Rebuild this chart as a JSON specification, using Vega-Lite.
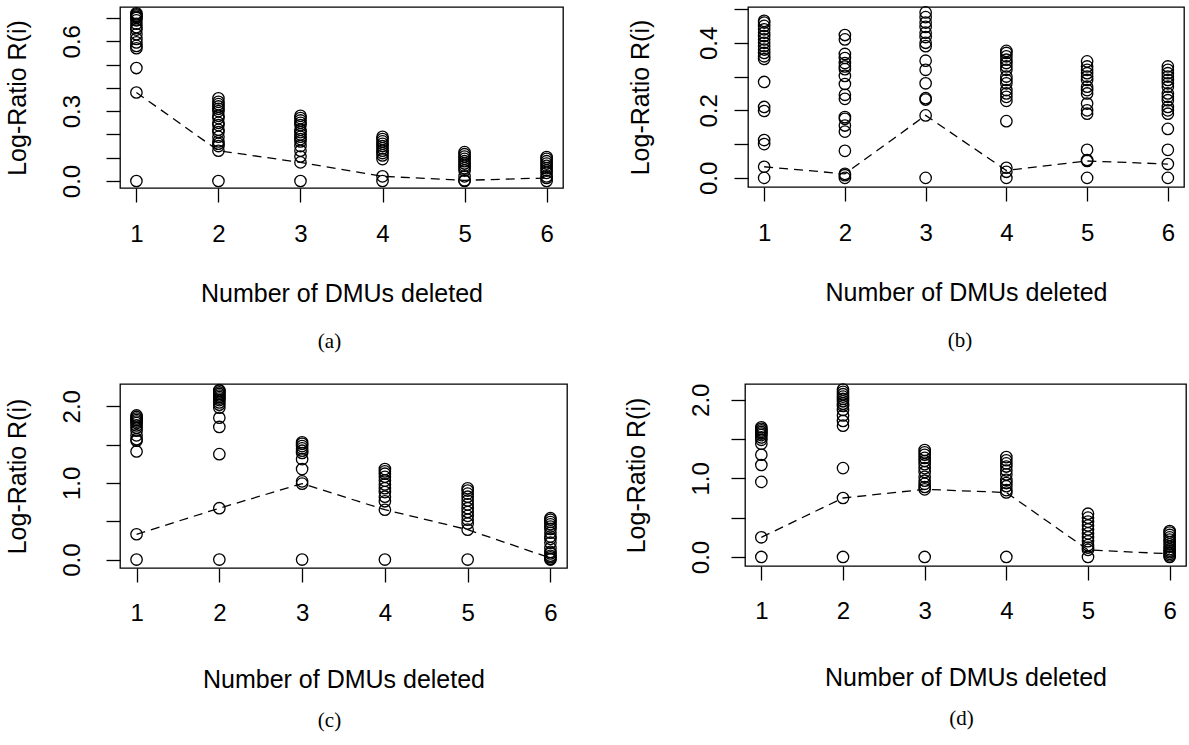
{
  "$schema": "https://vega.github.io/schema/vega-lite/v6.json",
  "padding": {"left": 4, "top": 3, "right": 0, "bottom": 0},
  "background": "white",
  "config": {
    "view": {"stroke": "black", "strokeWidth": 1.3},
    "axis": {"domain": false, "grid": false, "tickColor": "black", "tickWidth": 1.3, "tickSize": 14, "labelFont": "Liberation Sans", "labelFontSize": 24, "labelColor": "black", "titleFont": "Liberation Sans", "titleFontSize": 25, "titleFontWeight": "normal", "titleColor": "black", "labelFlush": false, "labelOverlap": false},
    "axisY": {"labelAngle": -90, "labelAlign": "center", "labelBaseline": "alphabetic", "labelPadding": 27, "titlePadding": 30},
    "axisX": {"labelAngle": 0, "labelPadding": 20, "titlePadding": 35},
    "title": {"font": "Liberation Serif", "fontSize": 21, "fontWeight": "normal", "color": "black", "orient": "bottom", "offset": 25}
  },
  "datasets": {
    "pa": [
      {"n":1,"r":0.0},{"n":1,"r":0.38},{"n":1,"r":0.485},{"n":1,"r":0.57},{"n":1,"r":0.58},{"n":1,"r":0.595},{"n":1,"r":0.61},{"n":1,"r":0.63},{"n":1,"r":0.65},{"n":1,"r":0.66},{"n":1,"r":0.675},{"n":1,"r":0.69},{"n":1,"r":0.70},{"n":1,"r":0.705},{"n":1,"r":0.71},{"n":1,"r":0.715},{"n":1,"r":0.72},
      {"n":2,"r":0.0},{"n":2,"r":0.13},{"n":2,"r":0.15},{"n":2,"r":0.16},{"n":2,"r":0.17},{"n":2,"r":0.19},{"n":2,"r":0.21},{"n":2,"r":0.22},{"n":2,"r":0.24},{"n":2,"r":0.25},{"n":2,"r":0.27},{"n":2,"r":0.28},{"n":2,"r":0.30},{"n":2,"r":0.31},{"n":2,"r":0.32},{"n":2,"r":0.33},{"n":2,"r":0.34},{"n":2,"r":0.355},
      {"n":3,"r":0.0},{"n":3,"r":0.08},{"n":3,"r":0.105},{"n":3,"r":0.13},{"n":3,"r":0.15},{"n":3,"r":0.17},{"n":3,"r":0.18},{"n":3,"r":0.19},{"n":3,"r":0.20},{"n":3,"r":0.21},{"n":3,"r":0.22},{"n":3,"r":0.24},{"n":3,"r":0.25},{"n":3,"r":0.26},{"n":3,"r":0.27},{"n":3,"r":0.28},
      {"n":4,"r":0.0},{"n":4,"r":0.02},{"n":4,"r":0.094},{"n":4,"r":0.11},{"n":4,"r":0.12},{"n":4,"r":0.13},{"n":4,"r":0.14},{"n":4,"r":0.15},{"n":4,"r":0.16},{"n":4,"r":0.17},{"n":4,"r":0.18},{"n":4,"r":0.19},
      {"n":5,"r":0.0},{"n":5,"r":0.003},{"n":5,"r":0.02},{"n":5,"r":0.045},{"n":5,"r":0.055},{"n":5,"r":0.065},{"n":5,"r":0.075},{"n":5,"r":0.085},{"n":5,"r":0.095},{"n":5,"r":0.105},{"n":5,"r":0.115},{"n":5,"r":0.124},
      {"n":6,"r":0.0},{"n":6,"r":0.013},{"n":6,"r":0.02},{"n":6,"r":0.035},{"n":6,"r":0.045},{"n":6,"r":0.055},{"n":6,"r":0.065},{"n":6,"r":0.075},{"n":6,"r":0.085},{"n":6,"r":0.095},{"n":6,"r":0.103}
    ],
    "la": [{"n":1,"r":0.38},{"n":2,"r":0.13},{"n":3,"r":0.08},{"n":4,"r":0.02},{"n":5,"r":0.003},{"n":6,"r":0.013}],
    "pb": [
      {"n":1,"r":0.0},{"n":1,"r":0.033},{"n":1,"r":0.10},{"n":1,"r":0.112},{"n":1,"r":0.198},{"n":1,"r":0.21},{"n":1,"r":0.284},{"n":1,"r":0.352},{"n":1,"r":0.36},{"n":1,"r":0.37},{"n":1,"r":0.38},{"n":1,"r":0.39},{"n":1,"r":0.40},{"n":1,"r":0.41},{"n":1,"r":0.42},{"n":1,"r":0.43},{"n":1,"r":0.44},{"n":1,"r":0.45},{"n":1,"r":0.46},{"n":1,"r":0.465},
      {"n":2,"r":0.0},{"n":2,"r":0.008},{"n":2,"r":0.012},{"n":2,"r":0.08},{"n":2,"r":0.137},{"n":2,"r":0.155},{"n":2,"r":0.175},{"n":2,"r":0.18},{"n":2,"r":0.234},{"n":2,"r":0.246},{"n":2,"r":0.278},{"n":2,"r":0.302},{"n":2,"r":0.322},{"n":2,"r":0.33},{"n":2,"r":0.34},{"n":2,"r":0.355},{"n":2,"r":0.367},{"n":2,"r":0.41},{"n":2,"r":0.423},
      {"n":3,"r":0.0},{"n":3,"r":0.185},{"n":3,"r":0.232},{"n":3,"r":0.236},{"n":3,"r":0.28},{"n":3,"r":0.32},{"n":3,"r":0.347},{"n":3,"r":0.39},{"n":3,"r":0.40},{"n":3,"r":0.417},{"n":3,"r":0.43},{"n":3,"r":0.447},{"n":3,"r":0.46},{"n":3,"r":0.476},{"n":3,"r":0.49},
      {"n":4,"r":0.0},{"n":4,"r":0.018},{"n":4,"r":0.03},{"n":4,"r":0.168},{"n":4,"r":0.228},{"n":4,"r":0.24},{"n":4,"r":0.25},{"n":4,"r":0.26},{"n":4,"r":0.28},{"n":4,"r":0.29},{"n":4,"r":0.30},{"n":4,"r":0.32},{"n":4,"r":0.33},{"n":4,"r":0.34},{"n":4,"r":0.35},{"n":4,"r":0.36},{"n":4,"r":0.37},{"n":4,"r":0.376},
      {"n":5,"r":0.0},{"n":5,"r":0.05},{"n":5,"r":0.053},{"n":5,"r":0.083},{"n":5,"r":0.19},{"n":5,"r":0.20},{"n":5,"r":0.22},{"n":5,"r":0.25},{"n":5,"r":0.26},{"n":5,"r":0.27},{"n":5,"r":0.29},{"n":5,"r":0.30},{"n":5,"r":0.31},{"n":5,"r":0.32},{"n":5,"r":0.33},{"n":5,"r":0.345},
      {"n":6,"r":0.0},{"n":6,"r":0.041},{"n":6,"r":0.083},{"n":6,"r":0.145},{"n":6,"r":0.19},{"n":6,"r":0.20},{"n":6,"r":0.21},{"n":6,"r":0.23},{"n":6,"r":0.24},{"n":6,"r":0.25},{"n":6,"r":0.27},{"n":6,"r":0.28},{"n":6,"r":0.29},{"n":6,"r":0.30},{"n":6,"r":0.31},{"n":6,"r":0.32},{"n":6,"r":0.33}
    ],
    "lb": [{"n":1,"r":0.033},{"n":2,"r":0.012},{"n":3,"r":0.185},{"n":4,"r":0.022},{"n":5,"r":0.05},{"n":6,"r":0.041}],
    "pc": [
      {"n":1,"r":0.0},{"n":1,"r":0.33},{"n":1,"r":1.41},{"n":1,"r":1.55},{"n":1,"r":1.57},{"n":1,"r":1.62},{"n":1,"r":1.68},{"n":1,"r":1.72},{"n":1,"r":1.75},{"n":1,"r":1.78},{"n":1,"r":1.80},{"n":1,"r":1.82},{"n":1,"r":1.84},{"n":1,"r":1.86},{"n":1,"r":1.88},
      {"n":2,"r":0.0},{"n":2,"r":0.67},{"n":2,"r":1.375},{"n":2,"r":1.73},{"n":2,"r":1.85},{"n":2,"r":1.98},{"n":2,"r":2.02},{"n":2,"r":2.05},{"n":2,"r":2.08},{"n":2,"r":2.10},{"n":2,"r":2.12},{"n":2,"r":2.14},{"n":2,"r":2.16},{"n":2,"r":2.18},{"n":2,"r":2.20},{"n":2,"r":2.21},
      {"n":3,"r":0.0},{"n":3,"r":0.99},{"n":3,"r":1.02},{"n":3,"r":1.18},{"n":3,"r":1.31},{"n":3,"r":1.39},{"n":3,"r":1.42},{"n":3,"r":1.45},{"n":3,"r":1.48},{"n":3,"r":1.51},{"n":3,"r":1.53},
      {"n":4,"r":0.0},{"n":4,"r":0.65},{"n":4,"r":0.76},{"n":4,"r":0.82},{"n":4,"r":0.88},{"n":4,"r":0.93},{"n":4,"r":0.98},{"n":4,"r":1.03},{"n":4,"r":1.08},{"n":4,"r":1.12},{"n":4,"r":1.15},{"n":4,"r":1.18},
      {"n":5,"r":0.0},{"n":5,"r":0.39},{"n":5,"r":0.47},{"n":5,"r":0.52},{"n":5,"r":0.57},{"n":5,"r":0.62},{"n":5,"r":0.67},{"n":5,"r":0.72},{"n":5,"r":0.77},{"n":5,"r":0.82},{"n":5,"r":0.86},{"n":5,"r":0.90},{"n":5,"r":0.93},
      {"n":6,"r":0.0},{"n":6,"r":0.01},{"n":6,"r":0.03},{"n":6,"r":0.05},{"n":6,"r":0.08},{"n":6,"r":0.10},{"n":6,"r":0.15},{"n":6,"r":0.22},{"n":6,"r":0.27},{"n":6,"r":0.30},{"n":6,"r":0.35},{"n":6,"r":0.40},{"n":6,"r":0.43},{"n":6,"r":0.46},{"n":6,"r":0.49},{"n":6,"r":0.52},{"n":6,"r":0.54}
    ],
    "lc": [{"n":1,"r":0.33},{"n":2,"r":0.67},{"n":3,"r":0.99},{"n":4,"r":0.65},{"n":5,"r":0.39},{"n":6,"r":0.02}],
    "pd": [
      {"n":1,"r":0.0},{"n":1,"r":0.25},{"n":1,"r":0.955},{"n":1,"r":1.17},{"n":1,"r":1.30},{"n":1,"r":1.44},{"n":1,"r":1.49},{"n":1,"r":1.52},{"n":1,"r":1.55},{"n":1,"r":1.57},{"n":1,"r":1.59},{"n":1,"r":1.61},{"n":1,"r":1.63},{"n":1,"r":1.65},
      {"n":2,"r":0.0},{"n":2,"r":0.75},{"n":2,"r":1.13},{"n":2,"r":1.67},{"n":2,"r":1.73},{"n":2,"r":1.80},{"n":2,"r":1.87},{"n":2,"r":1.92},{"n":2,"r":1.95},{"n":2,"r":1.98},{"n":2,"r":2.01},{"n":2,"r":2.04},{"n":2,"r":2.07},{"n":2,"r":2.10},{"n":2,"r":2.13},
      {"n":3,"r":0.0},{"n":3,"r":0.86},{"n":3,"r":0.89},{"n":3,"r":0.93},{"n":3,"r":0.97},{"n":3,"r":1.02},{"n":3,"r":1.08},{"n":3,"r":1.13},{"n":3,"r":1.18},{"n":3,"r":1.22},{"n":3,"r":1.26},{"n":3,"r":1.30},{"n":3,"r":1.33},{"n":3,"r":1.36},
      {"n":4,"r":0.0},{"n":4,"r":0.82},{"n":4,"r":0.85},{"n":4,"r":0.90},{"n":4,"r":0.94},{"n":4,"r":0.98},{"n":4,"r":1.05},{"n":4,"r":1.10},{"n":4,"r":1.15},{"n":4,"r":1.19},{"n":4,"r":1.23},{"n":4,"r":1.27},
      {"n":5,"r":0.0},{"n":5,"r":0.09},{"n":5,"r":0.12},{"n":5,"r":0.15},{"n":5,"r":0.20},{"n":5,"r":0.25},{"n":5,"r":0.30},{"n":5,"r":0.35},{"n":5,"r":0.40},{"n":5,"r":0.45},{"n":5,"r":0.50},{"n":5,"r":0.55},
      {"n":6,"r":0.0},{"n":6,"r":0.02},{"n":6,"r":0.04},{"n":6,"r":0.06},{"n":6,"r":0.08},{"n":6,"r":0.10},{"n":6,"r":0.13},{"n":6,"r":0.16},{"n":6,"r":0.19},{"n":6,"r":0.22},{"n":6,"r":0.25},{"n":6,"r":0.28},{"n":6,"r":0.31},{"n":6,"r":0.33}
    ],
    "ld": [{"n":1,"r":0.25},{"n":2,"r":0.75},{"n":3,"r":0.86},{"n":4,"r":0.82},{"n":5,"r":0.09},{"n":6,"r":0.04}]
  },
  "vconcat": [
    {
      "spacing": 63,
      "hconcat": [
        {
          "width": 443, "height": 181,
          "title": {"text": "(a)", "dx": -12},
          "encoding": {
            "x": {"field": "n", "type": "quantitative", "scale": {"domain": [0.8, 6.2], "nice": false, "zero": false}, "axis": {"values": [1,2,3,4,5,6], "title": "Number of DMUs deleted"}},
            "y": {"field": "r", "type": "quantitative", "scale": {"domain": [-0.03, 0.747], "nice": false, "zero": false}, "axis": {"values": [0,0.1,0.2,0.3,0.4,0.5,0.6,0.7], "labelExpr": "round(datum.value*10) % 3 == 0 ? format(datum.value, '.1f') : ''", "title": "Log-Ratio R(i)"}}
          },
          "layer": [
            {"data": {"name": "la"}, "mark": {"type": "line", "color": "black", "strokeWidth": 1.3, "strokeDash": [9, 6]}},
            {"data": {"name": "pa"}, "mark": {"type": "point", "shape": "circle", "filled": false, "color": "black", "size": 130, "strokeWidth": 1.3, "opacity": 1}}
          ]
        },
        {
          "width": 436, "height": 180,
          "title": {"text": "(b)", "dx": -6},
          "encoding": {
            "x": {"field": "n", "type": "quantitative", "scale": {"domain": [0.8, 6.2], "nice": false, "zero": false}, "axis": {"values": [1,2,3,4,5,6], "title": "Number of DMUs deleted"}},
            "y": {"field": "r", "type": "quantitative", "scale": {"domain": [-0.027, 0.506], "nice": false, "zero": false}, "axis": {"values": [0,0.1,0.2,0.3,0.4,0.5], "labelExpr": "round(datum.value*10) % 2 == 0 ? format(datum.value, '.1f') : ''", "title": "Log-Ratio R(i)", "labelPadding": 18, "titlePadding": 44}}
          },
          "layer": [
            {"data": {"name": "lb"}, "mark": {"type": "line", "color": "black", "strokeWidth": 1.3, "strokeDash": [9, 6]}},
            {"data": {"name": "pb"}, "mark": {"type": "point", "shape": "circle", "filled": false, "color": "black", "size": 130, "strokeWidth": 1.3, "opacity": 1}}
          ]
        }
      ]
    },
    {
      "spacing": 55,
      "hconcat": [
        {
          "width": 447, "height": 184,
          "title": {"text": "(c)", "dx": -14, "offset": 18},
          "encoding": {
            "x": {"field": "n", "type": "quantitative", "scale": {"domain": [0.8, 6.2], "nice": false, "zero": false}, "axis": {"values": [1,2,3,4,5,6], "title": "Number of DMUs deleted", "labelPadding": 19, "titlePadding": 42}},
            "y": {"field": "r", "type": "quantitative", "scale": {"domain": [-0.11, 2.29], "nice": false, "zero": false}, "axis": {"values": [0,0.5,1,1.5,2], "labelExpr": "round(datum.value*2) % 2 == 0 ? format(datum.value, '.1f') : ''", "title": "Log-Ratio R(i)"}}
          },
          "layer": [
            {"data": {"name": "lc"}, "mark": {"type": "line", "color": "black", "strokeWidth": 1.3, "strokeDash": [9, 6]}},
            {"data": {"name": "pc"}, "mark": {"type": "point", "shape": "circle", "filled": false, "color": "black", "size": 130, "strokeWidth": 1.3, "opacity": 1}}
          ]
        },
        {
          "width": 441, "height": 182,
          "title": {"text": "(d)", "dx": -4, "offset": 18},
          "encoding": {
            "x": {"field": "n", "type": "quantitative", "scale": {"domain": [0.8, 6.2], "nice": false, "zero": false}, "axis": {"values": [1,2,3,4,5,6], "title": "Number of DMUs deleted", "labelPadding": 19, "titlePadding": 42}},
            "y": {"field": "r", "type": "quantitative", "scale": {"domain": [-0.115, 2.2], "nice": false, "zero": false}, "axis": {"values": [0,0.5,1,1.5,2], "labelExpr": "round(datum.value*2) % 2 == 0 ? format(datum.value, '.1f') : ''", "title": "Log-Ratio R(i)", "labelPadding": 23, "titlePadding": 40}}
          },
          "layer": [
            {"data": {"name": "ld"}, "mark": {"type": "line", "color": "black", "strokeWidth": 1.3, "strokeDash": [9, 6]}},
            {"data": {"name": "pd"}, "mark": {"type": "point", "shape": "circle", "filled": false, "color": "black", "size": 130, "strokeWidth": 1.3, "opacity": 1}}
          ]
        }
      ]
    }
  ],
  "spacing": 27
}
